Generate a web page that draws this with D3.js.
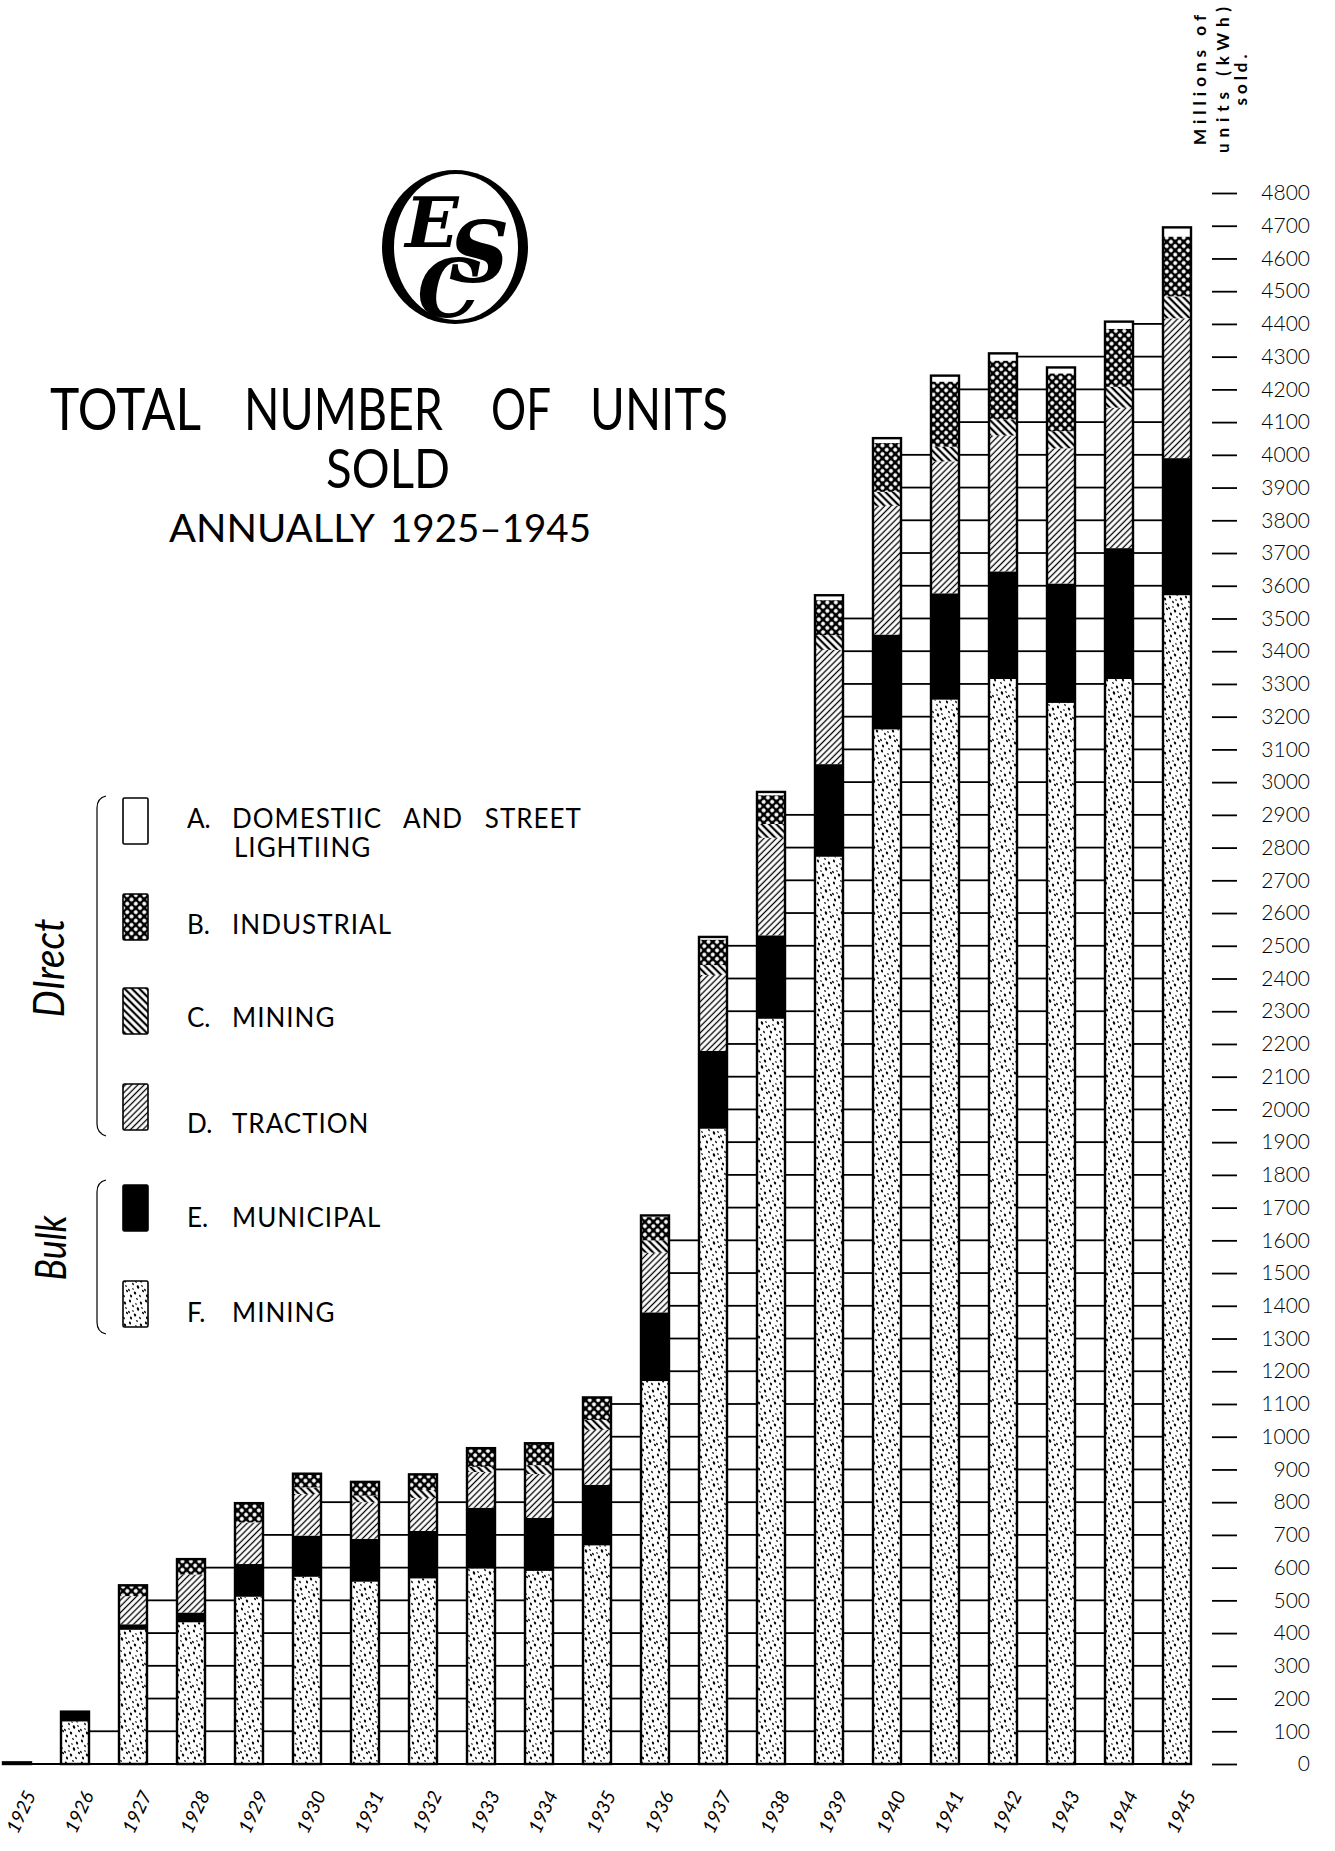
<!DOCTYPE html>
<html>
<head>
<meta charset="utf-8">
<script src="https://cdn.jsdelivr.net/npm/d3@7"></script>
<style>
  body { margin: 0; background: #fff; }
  svg { display: block; }
</style>
</head>
<body>
<svg id="chart"></svg>
<script>

// millions of units (kWh) sold
const years = [1925, 1926, 1927, 1928, 1929, 1930, 1931, 1932, 1933, 1934, 1935,
  1936, 1937, 1938, 1939, 1940, 1941, 1942, 1943, 1944, 1945];
const bulkMining   = [5, 130, 410, 433, 511, 572, 557, 567, 597, 590, 668, 1170, 1941, 2277, 2772, 3161, 3252, 3315, 3242, 3315, 3571];
const municipal    = [0, 30, 17, 30, 100, 126, 131, 145, 186, 162, 185, 210, 238, 255, 283, 290, 325, 329, 365, 400, 419];
const traction     = [0, 0, 86, 116, 127, 127, 112, 101, 109, 134, 168, 182, 232, 298, 349, 393, 403, 415, 413, 429, 427];
const directMining = [0, 0, 0, 0, 0, 20, 20, 24, 16, 27, 30, 38, 30, 42, 45, 43, 45, 49, 52, 64, 67];
const industrial   = [0, 0, 33, 47, 59, 42, 42, 48, 57, 67, 69, 71, 78, 88, 107, 149, 199, 180, 177, 177, 183];
const domestic     = [0, 0, 0, 0, 0, 0, 0, 0, 0, 0, 0, 5, 8, 10, 15, 15, 18, 22, 18, 22, 28];

const yTicks = d3.range(0, 4801, 100);

// bottom to top
const keys = ['F', 'E', 'D', 'C', 'B', 'A'];
const fills = { A: '#fff', B: 'url(#cross)', C: 'url(#hatchBack)', D: 'url(#hatchFwd)', E: '#000', F: 'url(#speckle)' };

const legendItems = [
  { key: 'A', letter: 'A.', lines: ['DOMESTIIC AND STREET', 'LIGHTIING'] },
  { key: 'B', letter: 'B.', lines: ['INDUSTRIAL'] },
  { key: 'C', letter: 'C.', lines: ['MINING'] },
  { key: 'D', letter: 'D.', lines: ['TRACTION'] },
  { key: 'E', letter: 'E.', lines: ['MUNICIPAL'] },
  { key: 'F', letter: 'F.', lines: ['MINING'] }
];

const W = 1335, H = 1851;
const svg = d3.select('#chart').attr('width', W).attr('height', H);
const defs = svg.append('defs');

// ---- fill patterns
const sp = defs.append('pattern').attr('id', 'speckle').attr('patternUnits', 'userSpaceOnUse')
  .attr('width', 16).attr('height', 22);
sp.append('rect').attr('width', 16).attr('height', 22).attr('fill', '#fff');
const specks = [[2, 3, 1.1], [9, 1, 0.8], [13, 5, 1.2], [5, 8, 0.9], [10, 11, 1.3], [1, 14, 0.9],
  [15, 15, 1], [7, 17, 1.2], [12, 20, 0.9], [3, 20, 1.1], [8, 6, 0.7], [14, 10, 0.8], [5, 13, 0.7]];
sp.selectAll('ellipse').data(specks).enter().append('ellipse')
  .attr('cx', d => d[0]).attr('cy', d => d[1])
  .attr('rx', d => d[2] * 0.85).attr('ry', d => d[2] * 1.4)
  .attr('transform', d => `rotate(-25 ${d[0]} ${d[1]})`)
  .attr('fill', '#000');

function lines(id, step, width, angle) {
  const p = defs.append('pattern').attr('id', id).attr('patternUnits', 'userSpaceOnUse')
    .attr('width', step).attr('height', 10).attr('patternTransform', `rotate(${angle})`);
  p.append('rect').attr('width', step).attr('height', 10).attr('fill', '#fff');
  p.append('line').attr('x1', step / 2).attr('x2', step / 2).attr('y1', 0).attr('y2', 10)
    .attr('stroke', '#000').attr('stroke-width', width);
}
lines('hatchFwd', 4.4, 1.3, 45);
lines('hatchBack', 5.2, 2.2, -45);

const cr = defs.append('pattern').attr('id', 'cross').attr('patternUnits', 'userSpaceOnUse')
  .attr('width', 6).attr('height', 6).attr('patternTransform', 'rotate(45)');
cr.append('rect').attr('width', 6).attr('height', 6).attr('fill', '#000');
cr.append('circle').attr('cx', 3).attr('cy', 3).attr('r', 2).attr('fill', '#fff');

// ---- scales
const x = d3.scaleBand().domain(years).range([3, 1191]).paddingInner(30 / 58).paddingOuter(0);
const y = d3.scaleLinear().domain([0, 4800]).range([1764, 193]);

const rows = years.map((yr, i) => ({
  year: yr, F: bulkMining[i], E: municipal[i], D: traction[i],
  C: directMining[i], B: industrial[i], A: domestic[i]
}));
rows.forEach(r => { r.total = keys.reduce((s, k) => s + r[k], 0); });
const series = d3.stack().keys(keys)(rows);

// ---- grid cells between the bars
const grid = svg.append('g').attr('stroke', '#000').attr('stroke-width', 1.8);
const segs = [];
yTicks.filter(v => v > 0).forEach(v => {
  const tall = rows.filter(r => r.total >= v);
  for (let i = 1; i < tall.length; i++) {
    segs.push({ v, a: tall[i - 1].year, b: tall[i].year });
  }
});
grid.selectAll('line').data(segs).enter().append('line')
  .attr('x1', d => x(d.a) + x.bandwidth()).attr('x2', d => x(d.b))
  .attr('y1', d => y(d.v)).attr('y2', d => y(d.v));
grid.append('line')
  .attr('x1', x(years[0])).attr('x2', x(years[years.length - 1]) + x.bandwidth())
  .attr('y1', y(0)).attr('y2', y(0)).attr('stroke-width', 2.2);

// ---- stacked bars
const bars = svg.append('g');
bars.selectAll('g').data(series).enter().append('g')
  .attr('fill', d => fills[d.key])
  .selectAll('rect').data(d => d).enter().append('rect')
  .attr('x', d => x(d.data.year))
  .attr('width', x.bandwidth())
  .attr('y', d => y(d[1]))
  .attr('height', d => y(d[0]) - y(d[1]));
bars.selectAll('.outline').data(rows).enter().append('rect')
  .attr('class', 'outline')
  .attr('x', d => x(d.year)).attr('width', x.bandwidth())
  .attr('y', d => y(d.total)).attr('height', d => y(0) - y(d.total))
  .attr('fill', 'none').attr('stroke', '#000').attr('stroke-width', 2.4);

// ---- year labels
svg.append('g').selectAll('text').data(years).enter().append('text')
  .attr('transform', d => `translate(${x(d) + x.bandwidth() / 2 + 4},1812) rotate(-65)`)
  .attr('text-anchor', 'middle').attr('dy', '0.35em')
  .style('font', 'italic 19px Lato').text(d => d);

// ---- right axis
const axis = svg.append('g').attr('transform', 'translate(1212,0)')
  .call(d3.axisRight(y).tickValues(yTicks).tickSize(25).tickFormat(d3.format('d')));
axis.select('.domain').remove();
axis.selectAll('.tick line').attr('stroke', '#000').attr('stroke-width', 1.8);
axis.selectAll('.tick text').attr('x', 98).attr('text-anchor', 'end')
  .style('font', '300 21px Lato').attr('fill', '#000');

const unitTitle = svg.append('g').style('font', 'bold 17px Lato').attr('text-anchor', 'middle');
[['Millions of', 1206, 130], ['units (kWh)', 1229, 146], ['sold.', 1247, 51]].forEach(t => {
  unitTitle.append('text').attr('transform', `translate(${t[1]},80) rotate(-90)`)
    .attr('textLength', t[2]).attr('lengthAdjust', 'spacing').text(t[0]);
});

// ---- title and logo
function fit(str, x0, x1, base, size) {
  svg.append('text').attr('x', x0).attr('y', base)
    .attr('textLength', x1 - x0).attr('lengthAdjust', 'spacingAndGlyphs')
    .style('font', `${size}px Lato`).text(str);
}
fit('TOTAL', 50, 201, 430, 59);
fit('NUMBER', 244, 443, 430, 59);
fit('OF', 491, 551, 430, 59);
fit('UNITS', 590, 728, 430, 59);
fit('SOLD', 326, 450, 488, 55);
fit('ANNUALLY', 169, 375, 542, 39);
fit('1925–1945', 390, 591, 542, 39);

const logo = svg.append('g');
logo.append('ellipse').attr('cx', 455).attr('cy', 247).attr('rx', 73).attr('ry', 77).attr('fill', '#000');
logo.append('ellipse').attr('cx', 456).attr('cy', 247).attr('rx', 62).attr('ry', 73).attr('fill', '#fff');
const mono = logo.append('text').attr('text-anchor', 'middle')
  .style('font', "italic bold 80px 'DejaVu Serif'");
mono.selectAll('tspan').data([['E', 432, 247, 70], ['S', 479, 282, 84], ['C', 449, 317, 80]])
  .enter().append('tspan')
  .attr('x', d => d[1]).attr('y', d => d[2])
  .style('font-size', d => d[3] + 'px').text(d => d[0]);

// ---- legend
const legendTop = { A: 798, B: 894, C: 988, D: 1084, E: 1185, F: 1281 };
const legendBase = { A: 828, B: 934, C: 1027, D: 1133, E: 1227, F: 1322 };
const lg = svg.append('g');
legendItems.forEach(item => {
  const t = legendTop[item.key], b = legendBase[item.key];
  lg.append('rect').attr('x', 123).attr('y', t).attr('width', 25).attr('height', 46)
    .attr('fill', fills[item.key]).attr('stroke', '#000').attr('stroke-width', 1.6).attr('rx', 1.5);
  lg.append('text').attr('x', 187).attr('y', b).style('font', '26px Lato').text(item.letter);
  item.lines.forEach((ln, j) => {
    lg.append('text').attr('x', 232 + (j ? 2 : 0)).attr('y', b + j * 29)
      .style('font', '26px Lato').style('letter-spacing', '1px').style('word-spacing', '14px').text(ln);
  });
});
lg.append('path').attr('d', 'M106,796 Q97,798 97,808 L97,1124 Q97,1133 106,1136')
  .attr('fill', 'none').attr('stroke', '#000').attr('stroke-width', 1.2);
lg.append('path').attr('d', 'M106,1180 Q97,1182 97,1192 L97,1322 Q97,1332 106,1334')
  .attr('fill', 'none').attr('stroke', '#000').attr('stroke-width', 1.2);
lg.append('text').attr('transform', 'translate(64,968) rotate(-90)').attr('text-anchor', 'middle')
  .attr('textLength', 99).attr('lengthAdjust', 'spacingAndGlyphs')
  .style('font', 'italic 42px Lato').text('DIrect');
lg.append('text').attr('transform', 'translate(66,1248) rotate(-90)').attr('text-anchor', 'middle')
  .attr('textLength', 65).attr('lengthAdjust', 'spacingAndGlyphs')
  .style('font', 'italic 42px Lato').text('Bulk');

</script>
</body>
</html>
